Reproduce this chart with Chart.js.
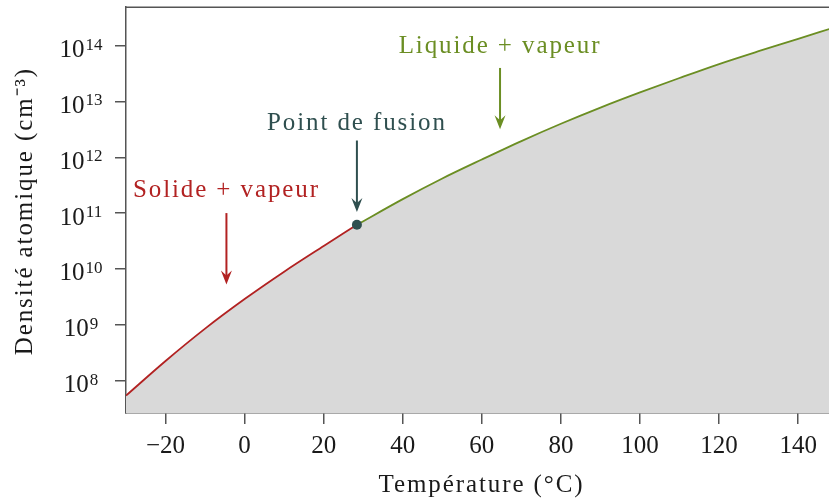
<!DOCTYPE html>
<html>
<head>
<meta charset="utf-8">
<script src="https://cdn.jsdelivr.net/npm/chart.js@4/dist/chart.umd.min.js"></script>
<style>
  html, body { margin: 0; padding: 0; background: #ffffff; }
  #c { display: block; }
</style>
</head>
<body>
<canvas id="c" width="829" height="504"></canvas>
<script>
// ---- data ----
const solidTemps   = [-30, -20, -10, 0, 10, 20, 28.4];
const solidDensity = [5.37e7, 2.24e8, 8.51e8, 2.88e9, 8.91e9, 2.57e10, 6.17e10];
const liquidTemps   = [28.4, 40, 50, 60, 70, 80, 90, 100, 110, 120, 130, 140, 148];
const liquidDensity = [6.17e10, 1.78e11, 4.17e11, 9.12e11, 1.95e12, 3.98e12, 7.76e12,
                       1.45e13, 2.63e13, 4.68e13, 7.94e13, 1.32e14, 2.0e14];
const meltingTemp = 28.4;
const meltingDensity = 6.17e10;
const xTickValues = [-20, 0, 20, 40, 60, 80, 100, 120, 140];
const yTickExponents = [8, 9, 10, 11, 12, 13, 14];
const annotationTexts = ['Solide + vapeur', 'Point de fusion', 'Liquide + vapeur'];
const xTitle = 'Température (°C)';
const yTitle = 'Densité atomique (cm\u207B\u00B3)';

// ---- styles / layout ----
const RED = '#b22222', GREEN = '#6b8e23', SLATE = '#2f4f4f';
const AXIS = '#555555', FILL = '#d9d9d9', TEXT = '#1a1a1a';
const FONT = '"Liberation Serif", "Times New Roman", serif';
const SPACING = '1.9px';

const solidPts  = solidTemps.map((t, i) => ({x: t, y: solidDensity[i]}));
const liquidPts = liquidTemps.map((t, i) => ({x: t, y: liquidDensity[i]}));
const fillPts   = solidPts.concat(liquidPts.slice(1));

// annotation anchors in data coordinates
const annotations = [
  {text: annotationTexts[0], color: RED,   x: -4.6, textY: 10**11.40, top: 10**11.0, tip: 10**9.72},
  {text: annotationTexts[1], color: SLATE, x: meltingTemp, textY: 10**12.61, top: 10**12.30, tip: 10**11.02},
  {text: annotationTexts[2], color: GREEN, x: 64.6, textY: 10**13.99, top: 10**13.60, tip: 10**12.50}
];

function arrow(ctx, x, y0, y1, color) {
  ctx.save();
  ctx.strokeStyle = color; ctx.fillStyle = color; ctx.lineWidth = 2;
  ctx.beginPath(); ctx.moveTo(x, y0); ctx.lineTo(x, y1 - 6); ctx.stroke();
  ctx.beginPath();
  ctx.moveTo(x, y1);
  ctx.lineTo(x - 5.5, y1 - 14);
  ctx.lineTo(x, y1 - 9);
  ctx.lineTo(x + 5.5, y1 - 14);
  ctx.closePath(); ctx.fill();
  ctx.restore();
}

const decorPlugin = {
  id: 'decor',
  afterDraw(chart) {
    const {ctx, chartArea} = chart;
    const xs = chart.scales.x, ys = chart.scales.y;
    ctx.save();
    // top frame line
    ctx.strokeStyle = AXIS; ctx.lineWidth = 1.5;
    ctx.beginPath(); ctx.moveTo(chartArea.left, chartArea.top); ctx.lineTo(chartArea.right, chartArea.top); ctx.stroke();
    // y tick labels with superscript exponents
    ctx.letterSpacing = '0px';
    ctx.fillStyle = TEXT; ctx.textBaseline = 'alphabetic'; ctx.textAlign = 'left';
    yTickExponents.forEach(e => {
      const y = ys.getPixelForValue(10 ** e);
      ctx.font = '25px ' + FONT;
      const wBase = ctx.measureText('10').width;
      ctx.font = '17px ' + FONT;
      const wExp = ctx.measureText(String(e)).width;
      const total = wBase + 1 + wExp;
      const start = 81 - total / 2;
      ctx.font = '25px ' + FONT;
      ctx.fillText('10', start, y + 11.5);
      ctx.font = '17px ' + FONT;
      ctx.fillText(String(e), start + wBase + 1, y + 4);
    });
    // axis titles
    ctx.letterSpacing = SPACING;
    ctx.font = '25px ' + FONT;
    ctx.textAlign = 'center'; ctx.textBaseline = 'middle';
    ctx.fillText(xTitle, (chartArea.left + chartArea.right) / 2 + 4, 485);
    ctx.save();
    ctx.translate(25, (chartArea.top + chartArea.bottom) / 2 + 1);
    ctx.rotate(-Math.PI / 2);
    ctx.fillText(yTitle, 0, 0);
    ctx.restore();
    // annotations
    annotations.forEach(a => {
      const x = xs.getPixelForValue(a.x);
      ctx.font = '25px ' + FONT;
      ctx.fillStyle = a.color;
      ctx.fillText(a.text, x, ys.getPixelForValue(a.textY));
      arrow(ctx, x, ys.getPixelForValue(a.top), ys.getPixelForValue(a.tip), a.color);
    });
    // melting point dot on top
    ctx.fillStyle = SLATE;
    ctx.beginPath();
    ctx.arc(xs.getPixelForValue(meltingTemp), ys.getPixelForValue(meltingDensity), 5, 0, Math.PI * 2);
    ctx.fill();
    ctx.restore();
  }
};

new Chart(document.getElementById('c'), {
  type: 'line',
  data: {
    datasets: [
      {data: solidPts, borderColor: RED, borderWidth: 1.8, pointRadius: 0, fill: false, cubicInterpolationMode: 'monotone'},
      {data: liquidPts, borderColor: GREEN, borderWidth: 1.8, pointRadius: 0, fill: false, cubicInterpolationMode: 'monotone'},
      {data: fillPts, borderWidth: 0, borderColor: 'rgba(0,0,0,0)', backgroundColor: FILL, pointRadius: 0, fill: 'start', cubicInterpolationMode: 'monotone'}
    ]
  },
  options: {
    responsive: false,
    animation: false,
    devicePixelRatio: 1,
    layout: {padding: {top: 4, right: 0, bottom: 0, left: 0}},
    plugins: {legend: {display: false}, tooltip: {enabled: false}},
    scales: {
      x: {
        type: 'linear',
        min: -30, max: 147.8,
        afterBuildTicks: s => { s.ticks = xTickValues.map(v => ({value: v})); },
        afterFit: s => { s.height = 91; },
        border: {display: true, color: AXIS, width: 1.5},
        grid: {display: true, drawOnChartArea: false, drawTicks: true, tickLength: 11, color: AXIS, lineWidth: 1.5},
        ticks: {
          color: TEXT, padding: 7, maxRotation: 0, autoSkip: false,
          font: {family: FONT, size: 25},
          callback: v => (v < 0 ? '\u2212' + Math.abs(v) : String(v))
        },
        title: {display: false}
      },
      y: {
        type: 'logarithmic',
        min: 2.62e7, max: 4.88e14,
        afterBuildTicks: s => { s.ticks = yTickExponents.map(e => ({value: 10 ** e})); },
        afterFit: s => { s.width = 126; },
        border: {display: true, color: AXIS, width: 1.5},
        grid: {display: true, drawOnChartArea: false, drawTicks: true, tickLength: 11, color: AXIS, lineWidth: 1.5},
        ticks: {callback: () => '', padding: 0},
        title: {display: false}
      }
    }
  },
  plugins: [decorPlugin]
});
</script>
</body>
</html>
